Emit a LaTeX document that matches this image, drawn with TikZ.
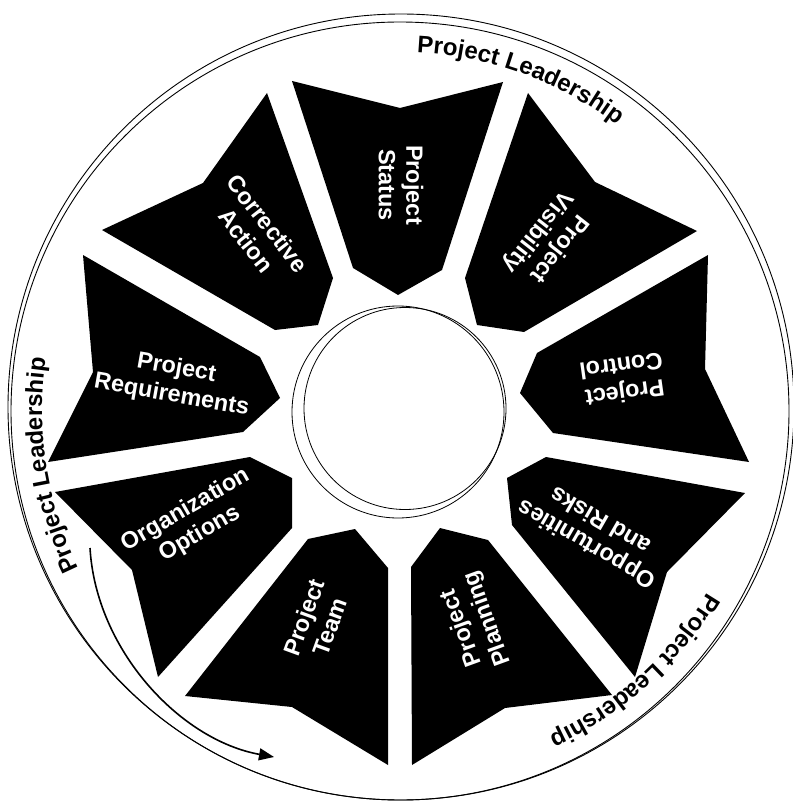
\documentclass[tikz,border=0pt]{standalone}
\usepackage{fontspec}
\setmainfont{Liberation Sans}
\usetikzlibrary{arrows.meta,decorations.text}
\newcommand\seglabelfont{\bfseries\fontsize{23.5}{27.5}\selectfont}
\newcommand\ringfont{\bfseries\fontsize{24}{28}\selectfont}
\begin{document}
\begin{tikzpicture}[x=1pt,y=1pt,
  segment/.style={fill=black},
  seglabel/.style={text=white,font=\seglabelfont,align=center,inner sep=0pt},
  ring/.style={draw=black,line width=0.9pt},
  hub/.style={draw=black,line width=0.8pt},
  ringtext/.style={decorate,decoration={text along path,text align=center,text={|\ringfont|#1}}},
  flow/.style={-{Triangle[length=15pt,width=12pt]},line width=1.6pt}]
\useasboundingbox (0,0) rectangle (792,-805);

% outer rings
\draw[ring] (401,-407) circle[radius=393];
\draw[ring] (400,-411) circle[radius=389];

% central hub
\draw[hub] (398,-412) circle[radius=106];
\draw[hub] (405,-408.5) circle[radius=101];

% the nine arrow segments, each pointing at the hub
\fill[segment] (292,-81) -- (400,-108) -- (503,-82) -- (442,-270) -- (398,-295) -- (353,-268) -- cycle;
\fill[segment] (528,-93) -- (595,-182) -- (697,-231) -- (524,-332) -- (477,-325) -- (465,-278) -- cycle;
\fill[segment] (708,-255) -- (705,-369) -- (749,-462) -- (553,-433) -- (520,-393) -- (537,-353) -- cycle;
\fill[segment] (745,-493) -- (667,-572) -- (635,-677) -- (512,-525) -- (507,-478) -- (546,-457) -- cycle;
\fill[segment] (440,-528) -- (488,-540) -- (612,-695) -- (505,-708) -- (412,-765) -- (411,-567) -- cycle;
\fill[segment] (355,-529) -- (388,-568) -- (388,-765) -- (292,-707) -- (185,-696) -- (308,-539) -- cycle;
\fill[segment] (55,-492) -- (250,-457) -- (292,-478) -- (292,-528) -- (158,-677) -- (132,-570) -- cycle;
\fill[segment] (83,-255) -- (93,-372) -- (48,-462) -- (243,-432) -- (280,-398) -- (260,-357) -- cycle;
\fill[segment] (267,-93) -- (333,-278) -- (318,-325) -- (275,-330) -- (102,-230) -- (203,-183) -- cycle;

% segment labels
\node[seglabel,rotate=-90]  (status)       at (401,-185) {Project\\Status};
\node[seglabel,rotate=-128] (visibility)   at (548,-240) {Project\\Visibility};
\node[seglabel,rotate=188]  (control)      at (623,-380) {Project\\Control};
\node[seglabel,rotate=150]  (risks)        at (593,-533) {Opportunities\\and Risks};
\node[seglabel,rotate=110]  (planning)     at (475,-623) {Project\\Planning};
\node[seglabel,rotate=70]   (team)         at (317,-622) {Project\\Team};
\node[seglabel,rotate=30]   (options)      at (193,-522) {Organization\\Options};
\node[seglabel,rotate=-10]  (requirements) at (174,-382) {Project\\Requirements};
\node[seglabel,rotate=-52]  (corrective)   at (257,-232) {Corrective\\Action};

% curved captions inside the outer ring
\path[ringtext=Project Leadership] (400,-410) ++(110:358) arc[start angle=110,end angle=30,radius=358];
\path[ringtext=Project Leadership] (400,-410) ++(229:358) arc[start angle=229,end angle=149,radius=358];
\path[ringtext=Project Leadership] (400,-410) ++(352:358) arc[start angle=352,end angle=272,radius=358];

% direction of travel
\coordinate (flowstart) at (90,-548);
\coordinate (flowend) at (274,-757);
\draw[flow] (flowstart) .. controls (96,-650) and (180,-740) .. (flowend);
\end{tikzpicture}
\end{document}
